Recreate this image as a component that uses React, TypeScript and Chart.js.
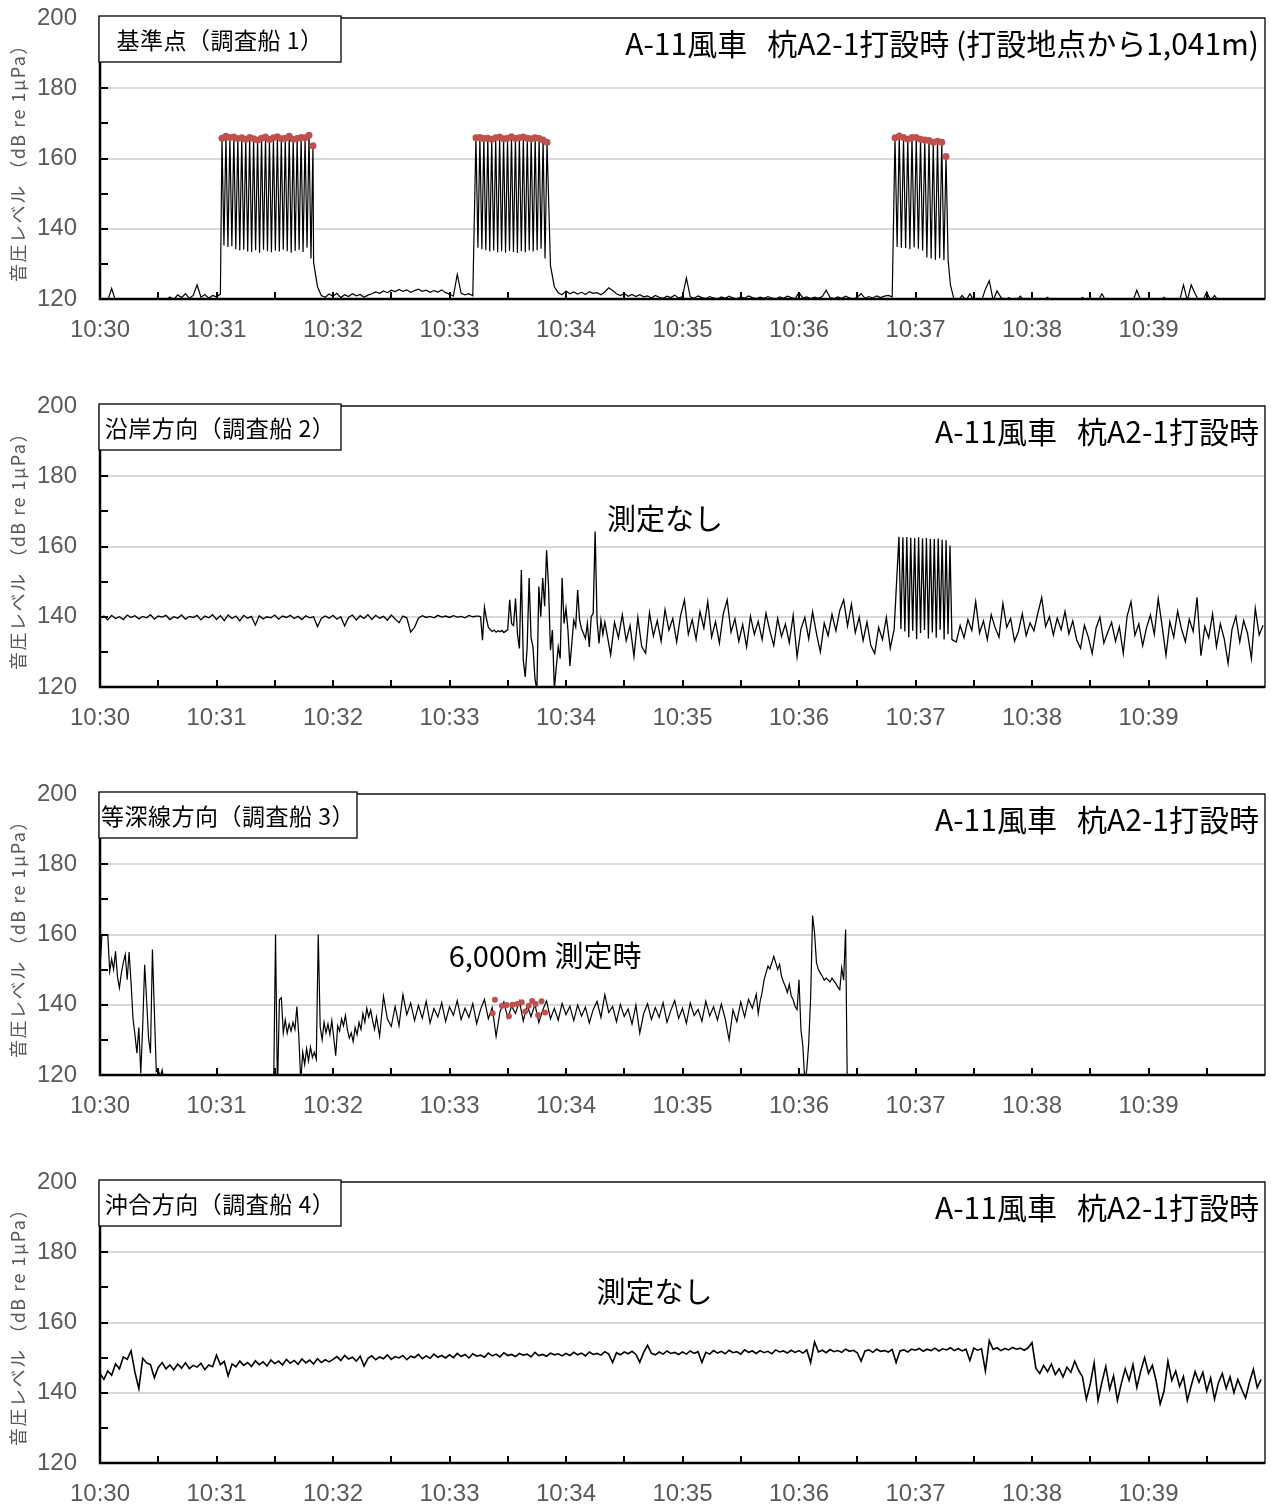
import React, { useEffect, useRef } from "react";
import { Chart, registerables } from "chart.js";

Chart.register(...registerables);

// ---------- axes ----------
const timeLabels = ["10:30", "10:31", "10:32", "10:33", "10:34", "10:35", "10:36", "10:37", "10:38", "10:39"];
const xMin = 0;
const xMax = 10;
const xMinorStep = 0.5;
const yMin = 120;
const yMax = 200;
const yLabelStep = 20;
const yMinorStep = 10;
const yAxisTitle = "音圧レベル （dB re 1μPa）";

// sampling intervals in minutes
const STEP_2S = 1 / 30;
const STEP_1S = 1 / 60;

// ---------- panel 1 : 基準点 ----------
const p1NoiseA = [119.5, 119.5, 119.6, 123.0, 119.5, 119.4, 119.6, 119.5, 119.5, 119.4, 119.6, 119.5, 119.5, 119.6, 119.4, 119.5, 119.5, 119.8,
  120.6, 119.8, 121.2, 120.4, 121.5, 120.2, 121.0, 124.0, 120.5, 121.3, 120.2, 121.0, 120.6, 121.4];
const p1NoiseB = [130.5, 123.5,
  121.0, 120.5, 121.4, 120.8, 121.6, 120.4, 121.2, 120.7, 121.5, 120.9, 121.3, 120.5, 121.1,
  121.5, 122.0, 121.6, 122.3, 121.8, 122.5, 122.1, 122.7, 122.2, 122.6, 121.9, 122.4, 122.8, 122.2, 122.5, 121.9, 122.4, 122.0, 122.6, 121.8,
  121.4, 120.8, 127.0, 121.6, 121.2, 121.5, 120.9];
const p1NoiseC = [129.5, 123.5,
  121.8, 121.2, 122.3, 121.5, 122.0, 121.4, 121.9, 121.3, 122.1, 121.6, 121.8, 121.2, 122.0, 123.2, 122.4, 121.5, 121.0, 121.6, 120.8, 121.3, 120.7, 121.2, 120.6,
  120.9, 120.3, 121.0, 120.5, 120.2, 120.8, 120.4, 121.1, 120.3, 120.7,
  126.0,
  120.6, 120.2, 120.9, 120.4, 120.1, 120.7, 120.3, 120.0, 120.6,
  120.2, 120.8, 120.3, 120.0, 120.6, 120.2, 120.9, 120.4, 120.1, 120.5,
  120.2, 120.7, 120.3, 120.0, 120.6, 120.2, 120.8, 120.4, 120.1, 121.8,
  120.3, 120.6, 120.1, 120.5, 120.2, 120.7, 122.5, 120.4, 120.1, 120.6,
  120.2, 120.8, 120.3, 120.0, 120.5, 121.5, 120.2, 120.7, 120.3, 120.9, 120.4, 120.8, 121.0, 120.6];
const p1NoiseD = [124.0,
  119.5, 119.6, 121.0, 119.5, 121.5, 119.6, 119.5, 119.5, 122.8, 125.2,
  119.6, 122.3, 120.5, 119.5, 120.4, 119.6, 119.5, 120.8, 119.5, 119.6,
  119.5, 119.5, 119.6, 119.5, 120.5, 119.5, 119.6, 119.5, 119.5, 119.6,
  119.5, 119.5, 119.6, 120.4, 119.5, 119.5, 119.6, 119.5, 121.5, 119.5,
  119.5, 119.6, 119.5, 119.5, 119.5, 119.6, 119.5, 122.5, 119.6, 119.5,
  119.5, 119.6, 119.5, 119.5, 120.5, 119.5, 119.6, 119.5, 119.5, 124.0,
  119.6, 124.0, 121.5, 119.5, 119.6, 122.0, 119.5, 121.0, 119.5, 119.6,
  119.5, 119.5, 119.6, 119.5, 119.5, 119.6, 119.5, 119.5, 119.6, 119.5];

const p1Burst1Peaks = [165.8, 166.3, 166.0, 166.1, 165.7, 165.9, 165.5, 166.0, 165.6, 165.3, 165.8, 166.1, 165.4, 165.9, 166.2, 165.6, 165.8, 166.3, 165.5, 165.7, 166.0, 165.9, 166.6, 163.6];
const p1Burst1Troughs = [135.2, 134.8, 135.0, 134.2, 133.8, 134.0, 133.5, 133.4, 133.9, 133.2, 134.0, 133.6, 133.3, 133.8, 133.5, 134.1, 133.6, 133.2, 133.7, 134.0, 133.4, 134.6, 131.5];
const p1Burst2Peaks = [165.9, 166.0, 165.7, 165.8, 165.5, 165.9, 166.1, 165.6, 165.8, 166.2, 165.7, 165.9, 166.1, 165.8, 165.6, 165.9, 165.7, 165.3, 164.6];
const p1Burst2Troughs = [134.6, 134.2, 133.9, 133.5, 133.8, 133.3, 133.6, 133.2, 133.7, 133.4, 133.1, 133.6, 133.3, 133.8, 133.5, 133.9, 134.3, 131.5];
const p1Burst3Peaks = [165.9, 166.4, 166.0, 165.5, 166.0, 166.0, 165.5, 165.3, 165.1, 164.6, 164.9, 164.6, 160.6];
const p1Burst3Troughs = [134.8, 134.6, 134.5, 134.2, 134.7, 134.3, 133.8, 131.8, 131.5, 131.2, 131.6, 131.0, 131.0];

// ---------- panel 2 : 沿岸方向 ----------
const p2NoiseA = [
  139.6, 140.2, 139.1, 140.4, 139.5, 140.0, 139.2, 140.5, 139.8, 140.3,
  139.4, 140.1, 139.7, 140.6, 139.3, 140.2, 139.9, 140.4, 139.2, 140.0,
  139.6, 140.5, 139.3, 140.1, 139.8, 140.4, 139.1, 140.2, 139.7, 140.6,
  139.2, 140.3, 138.9, 140.5, 139.5, 140.2, 138.8, 140.4, 139.6, 140.1,
  137.6, 140.3, 139.4, 140.0, 139.7, 140.5, 139.3, 140.2, 139.8, 140.4,
  139.5, 140.1, 139.2, 140.3, 139.7, 140.0, 137.2, 139.5, 140.2, 139.6,
  140.4, 139.3, 140.0, 137.4, 139.8, 140.5, 139.1, 140.3, 139.5, 140.6,
  139.2, 140.4, 139.6, 140.1, 139.0, 140.5, 139.4, 138.3, 140.2, 139.7,
  135.6, 137.0, 139.6, 140.3, 139.8, 140.1, 139.7, 140.4, 139.9, 140.2,
  139.8, 140.3, 139.9, 140.1, 139.7, 140.4, 140.0, 140.2];
const p2Disturbed = [140.2, 140.0, 133.3, 142.7, 139.5, 137.0, 136.3, 135.8, 136.2, 135.6, 136.0, 135.7, 136.1, 135.5, 135.9, 136.3,
  144.8, 138.0, 137.5, 145.2, 135.2, 131.0, 153.3, 127.6, 122.9, 131.4, 151.0, 134.0, 131.4, 122.5, 119.0, 148.6, 140.0, 151.0, 143.0, 158.9,
  148.6, 130.5, 136.2, 119.5, 125.7, 131.4, 128.1, 151.0, 138.1, 142.4, 136.2, 126.0, 132.4, 139.0, 137.1, 147.6, 139.0, 136.6, 135.2, 133.8,
  138.1, 131.4, 140.0, 141.0, 164.3, 139.0, 132.4, 139.0, 135.0, 138.5];
const p2NoiseB = [
  135.5, 129.2, 138.4, 134.0, 140.6, 133.2, 137.5, 128.7, 139.8, 131.5,
  129.6, 141.2, 134.5, 138.9, 133.0, 142.0, 136.2, 139.5, 132.8, 140.3,
  144.8, 135.0, 139.2, 133.6, 141.5, 136.8, 144.3, 134.2, 138.6, 132.5,
  140.8, 144.8, 135.6, 139.4, 133.0, 137.8, 131.4, 140.2, 135.0, 138.7,
  133.5, 141.0, 136.0, 131.8, 139.5, 134.4, 137.9, 132.6, 140.4, 128.6,
  136.5, 139.8, 133.7, 141.4, 135.2, 130.0, 138.2, 134.6, 140.7, 136.0,
  141.8, 144.8, 137.4, 143.6, 135.5, 139.9, 133.2, 138.5, 131.8, 129.5,
  137.0, 133.5, 139.8, 131.0, 136.4];
const p2NoiseC = [
  132.8, 137.5, 134.0, 139.2, 136.1, 144.3, 135.4, 138.8, 133.5, 140.6,
  136.9, 134.2, 143.8, 137.0, 139.5, 133.0, 135.8, 140.9, 134.6, 138.2,
  136.0, 141.0, 145.5, 137.2, 140.0, 134.8, 139.6, 136.3, 141.5, 135.1,
  138.8, 133.4, 131.0, 137.6, 134.2, 129.5, 136.8, 139.9, 132.5, 135.6,
  138.4, 133.0, 137.1, 129.6, 140.2, 144.3, 134.7, 138.0, 131.8, 136.9,
  140.5, 135.0, 145.2, 137.4, 129.0, 138.6, 134.2, 141.6, 136.5, 132.9,
  139.3, 135.8, 145.5, 128.9, 137.2, 134.0, 140.8, 131.5, 138.0, 133.7,
  126.7, 136.4, 140.1, 132.8, 138.9, 135.3, 128.1, 142.4, 134.8, 137.6];
const p2BurstPeaks = [162.8, 162.6, 162.7, 162.5, 162.4, 162.6, 162.3, 162.4, 162.2, 162.1, 162.3, 161.9, 161.8, 160.3];
const p2BurstTroughs = [136.5, 135.8, 134.2, 136.0, 133.6, 135.4, 136.2, 133.8, 135.5, 134.0, 136.3, 133.5, 135.0, 133.5];

// ---------- panel 3 : 等深線方向 ----------
const p3Start = [150.0, 160.0, 160.0, 160.0, 160.0, 149.5, 153.0, 150.0, 155.2, 148.0, 144.8, 149.0, 152.0, 154.3, 147.1, 155.0, 146.2,
  136.0, 131.5, 126.2, 133.5, 120.5, 133.8, 151.4, 141.4, 130.5, 126.2, 155.7, 138.0, 121.0, 121.4, 119.5, 121.4, 118.0];
const p3Resume = [115.0, 160.0, 115.0, 141.4, 142.0, 132.0, 135.7, 131.9, 134.5, 132.5, 135.0, 133.0, 139.5, 131.0, 118.0, 126.5, 123.0,
  127.5, 124.0, 128.0, 125.0, 126.5, 124.5, 160.0, 133.8, 130.0, 135.0, 132.0, 134.5, 131.5, 135.5, 130.5, 125.5, 134.0, 132.5, 136.0,
  134.0, 137.0, 133.0, 130.5, 132.0, 129.5, 133.5, 131.5, 135.0, 133.0, 137.5, 135.0, 139.0, 136.5, 138.5, 135.5, 133.0, 136.5];
const p3Steady = [
  131.0, 142.4, 136.0, 133.8, 139.5, 134.0, 142.9, 137.2, 140.5, 135.5,
  139.8, 136.2, 141.0, 134.8, 138.9, 136.5, 140.6, 135.2, 139.4, 137.0,
  141.2, 135.8, 139.0, 136.4, 140.3, 134.6, 138.7, 141.5, 136.0, 139.2,
  131.0, 138.0, 140.8, 136.2, 139.6, 137.5, 141.0, 135.4, 139.8, 136.6,
  140.2, 134.9, 138.5, 141.1, 136.0, 139.0, 135.6, 140.4, 137.2, 139.6,
  135.5, 140.0, 136.8, 139.3, 134.8, 138.6, 141.0, 136.4, 142.9, 137.8,
  139.5, 135.2, 140.1, 136.7, 138.8, 134.5, 139.9, 131.9, 137.5, 140.3,
  135.8, 139.2, 136.4, 140.6, 135.0, 138.4, 141.2, 136.1, 139.0, 134.7,
  140.5, 136.9, 138.7, 135.3, 141.0, 136.8, 139.4, 135.6, 140.2, 136.0,
  130.0, 138.5, 135.2, 140.8, 136.5, 141.5, 139.0, 143.0];
const p3End = [137.5, 141.0, 143.5, 147.1, 149.0, 151.0, 150.2, 151.9, 153.8, 152.0, 150.0, 151.5, 148.1, 146.5, 145.2, 143.5, 145.8,
  142.5, 141.4, 139.5, 138.6, 147.1, 133.0, 128.1, 118.0, 121.5, 129.0, 142.0, 165.4, 160.5, 152.0, 150.0, 149.0, 148.1, 147.0, 147.6,
  147.1, 146.5, 147.6, 146.8, 146.0, 145.0, 144.3, 150.5, 147.0, 161.4, 110.0];
const p3MarkTimes = [3.37, 3.39, 3.45, 3.49, 3.51, 3.54, 3.58, 3.62, 3.65, 3.68, 3.71, 3.74, 3.76, 3.79, 3.82];
const p3MarkValues = [137.6, 141.4, 139.7, 139.9, 136.7, 140.0, 140.2, 140.7, 138.1, 139.7, 141.1, 140.2, 137.1, 141.0, 137.8];

// ---------- panel 4 : 沖合方向 ----------
const p4Before = [
  145.5, 143.8, 146.2, 145.0, 148.2, 146.8, 150.2, 149.5, 151.9, 145.8, 141.2, 149.8, 148.5,
  148.0, 144.3, 147.2, 148.6, 146.8, 147.9, 146.5, 148.2, 147.0, 148.5, 146.9, 147.8, 147.3, 148.4, 146.6, 147.9, 147.4,
  150.7, 148.0, 148.9, 144.8,
  148.2, 147.4, 149.0, 147.8, 148.6, 147.5, 149.1, 148.0, 148.8, 147.6, 149.3, 148.3, 149.0, 147.9, 149.5, 148.4, 149.2, 148.1, 149.6, 148.5, 149.3, 148.2, 149.7, 148.6, 149.4, 148.8,
  149.5, 150.3, 149.2, 150.6, 149.6, 150.1, 149.0, 150.4, 147.6, 149.8, 150.5, 149.4, 150.2, 149.7, 150.8, 149.5, 150.3, 149.9, 150.6, 149.4, 150.4, 150.0, 150.9, 149.7, 150.5, 149.8, 151.0, 150.1, 150.6, 149.9,
  150.8, 150.0, 151.2, 150.3, 150.9, 149.9, 151.1, 150.4, 150.7, 150.1, 151.3, 150.5, 151.0, 150.2, 151.4, 150.6, 150.9, 150.3, 151.2, 150.7, 151.0, 150.2, 151.5, 150.6, 150.9, 150.4, 151.3, 150.8, 151.1, 150.5,
  151.2, 150.6, 151.5, 150.8, 151.3, 150.5, 151.6, 150.9, 151.2, 150.7, 151.7, 151.0, 148.6, 151.4, 150.8, 151.6, 151.1, 151.8, 150.9, 148.7, 151.5, 153.5, 151.2, 150.8, 151.6, 151.0, 151.9, 151.2, 151.5, 150.9,
  151.6, 151.0, 151.9, 151.2, 151.7, 148.6, 151.5, 151.0, 152.0, 151.3, 151.8, 151.1, 152.1, 151.4, 151.7, 151.0, 152.2, 151.5, 151.9, 151.2, 152.0, 151.4, 151.8, 151.1, 152.2, 151.6, 151.9, 151.3, 152.1, 151.5,
  152.0, 151.3, 152.2, 148.6, 154.5, 151.6, 152.1, 151.4, 152.3, 151.7, 152.0, 151.5, 152.4, 151.8, 152.1, 151.4, 149.0, 151.9, 152.2, 151.5, 152.4, 151.8, 152.0, 151.6, 152.3, 148.6, 151.9, 152.2, 151.6, 152.4,
  152.1, 152.6, 151.8, 152.4, 152.0, 152.7, 151.9, 152.5, 152.2, 152.8, 152.0, 152.6, 151.9, 152.4, 149.2, 152.7, 152.1, 152.5, 146.2, 154.8, 152.3, 152.8, 152.0, 152.6, 152.2, 152.9, 152.4, 152.7, 152.1, 152.8];
const p4After = [154.3,
  147.0, 145.5, 147.8, 146.0, 148.2, 145.2, 146.8, 144.5, 147.3, 145.8, 149.0, 146.4,
  144.5, 138.1, 142.5, 148.5, 137.8, 143.0, 147.5, 141.0, 144.8, 137.8, 142.6, 146.8, 143.5, 148.0, 141.5, 146.2, 150.0, 145.5,
  147.8, 143.2, 136.8, 140.5, 149.0, 143.5, 146.2, 141.8, 144.6, 137.8, 142.0, 146.0, 143.0, 145.8, 140.5, 144.2, 138.2, 142.8,
  145.5, 141.2, 144.5, 140.0, 143.8, 141.0, 138.5, 143.0, 146.7, 141.5, 143.8];

// ---------- builders ----------
type Pt = { x: number; y: number };
type Seg = { start: number; step: number; values: number[] };
type Burst = { start: number; interval: number; peaks: number[]; troughs: number[] };

function segPoints(s: Seg): Pt[] {
  return s.values.map((v, i) => ({ x: s.start + i * s.step, y: v }));
}
function burstPoints(b: Burst): Pt[] {
  const out: Pt[] = [];
  b.peaks.forEach((p, k) => {
    out.push({ x: b.start + k * b.interval, y: p });
    if (k < b.troughs.length) out.push({ x: b.start + (k + 0.5) * b.interval, y: b.troughs[k] });
  });
  return out;
}
function peakPoints(b: Burst): Pt[] {
  return b.peaks.map((p, k) => ({ x: b.start + k * b.interval, y: p }));
}
function buildLine(segs: Seg[], bursts: Burst[]): Pt[] {
  const pts: Pt[] = [];
  segs.forEach((s) => pts.push(...segPoints(s)));
  bursts.forEach((b) => pts.push(...burstPoints(b)));
  pts.sort((a, b) => a.x - b.x);
  return pts;
}

const p1Bursts: Burst[] = [
  { start: 1.047, interval: 0.03396, peaks: p1Burst1Peaks, troughs: p1Burst1Troughs },
  { start: 3.227, interval: 0.03389, peaks: p1Burst2Peaks, troughs: p1Burst2Troughs },
  { start: 6.824, interval: 0.0365, peaks: p1Burst3Peaks, troughs: p1Burst3Troughs },
];
const p2Bursts: Burst[] = [{ start: 6.858, interval: 0.0337, peaks: p2BurstPeaks, troughs: p2BurstTroughs }];

const RED = "#c0504d";
const GRAY = "#595959";
const CJK = "'Noto Sans CJK JP', 'Noto Sans', sans-serif";
const LATIN = "'Liberation Sans', Arial, sans-serif";
const MAIN_TITLE = "A-11風車   杭A2-1打設時";

type Note = { text: string; t: number; v: number; size: number };
type PanelCfg = {
  top: number;
  label: string;
  boxWidth: number;
  title: string;
  line: Pt[];
  lineWidth: number;
  marks: Pt[];
  markRadius: number;
  notes: Note[];
};

const panels: PanelCfg[] = [
  {
    top: 0,
    label: "基準点（調査船 1）",
    boxWidth: 242,
    title: MAIN_TITLE + " (打設地点から1,041m)",
    line: buildLine(
      [
        { start: 0, step: STEP_2S, values: p1NoiseA },
        { start: 55 * STEP_2S, step: STEP_2S, values: p1NoiseB },
        { start: 116 * STEP_2S, step: STEP_2S, values: p1NoiseC },
        { start: 219 * STEP_2S, step: STEP_2S, values: p1NoiseD },
      ],
      p1Bursts
    ),
    lineWidth: 1.2,
    marks: p1Bursts.flatMap(peakPoints),
    markRadius: 3.5,
    notes: [],
  },
  {
    top: 388,
    label: "沿岸方向（調査船 2）",
    boxWidth: 242,
    title: MAIN_TITLE,
    line: buildLine(
      [
        { start: 0, step: STEP_2S, values: p2NoiseA },
        { start: 3.25, step: STEP_1S, values: p2Disturbed },
        { start: 4.35, step: STEP_2S, values: p2NoiseB },
        { start: 7.35, step: STEP_2S, values: p2NoiseC },
      ],
      p2Bursts
    ),
    lineWidth: 1.3,
    marks: [],
    markRadius: 0,
    notes: [{ text: "測定なし", t: 4.85, v: 167.8, size: 29 }],
  },
  {
    top: 776,
    label: "等深線方向（調査船 3）",
    boxWidth: 258,
    title: MAIN_TITLE,
    line: buildLine(
      [
        { start: 0, step: STEP_1S, values: p3Start },
        { start: 1.49, step: STEP_1S, values: p3Resume },
        { start: 2.4, step: STEP_2S, values: p3Steady },
        { start: 5.65, step: STEP_1S, values: p3End },
      ],
      []
    ),
    lineWidth: 1.2,
    marks: p3MarkTimes.map((t, i) => ({ x: t, y: p3MarkValues[i] })),
    markRadius: 3,
    notes: [{ text: "6,000m 測定時", t: 3.82, v: 153.9, size: 29 }],
  },
  {
    top: 1164,
    label: "沖合方向（調査船 4）",
    boxWidth: 242,
    title: MAIN_TITLE,
    line: buildLine(
      [
        { start: 0, step: STEP_2S, values: p4Before },
        { start: 8.0, step: STEP_2S, values: p4After },
      ],
      []
    ),
    lineWidth: 1.6,
    marks: [],
    markRadius: 0,
    notes: [{ text: "測定なし", t: 4.76, v: 168.8, size: 29 }],
  },
];

function makeDeco(cfg: PanelCfg) {
  return {
    id: "deco",
    afterDraw(chart: any) {
      const ctx: any = chart.ctx;
      const a = chart.chartArea;
      const xs = chart.scales.x;
      const ys = chart.scales.y;
      ctx.save();
      // inner tick marks
      ctx.strokeStyle = "#000";
      ctx.lineWidth = 2;
      ctx.beginPath();
      for (let v = yMin + yMinorStep; v < yMax; v += yMinorStep) {
        const y = Math.round(ys.getPixelForValue(v));
        ctx.moveTo(a.left, y);
        ctx.lineTo(a.left + 8, y);
      }
      for (let t = xMin + xMinorStep; t < xMax - 1e-9; t += xMinorStep) {
        const x = Math.round(xs.getPixelForValue(t));
        ctx.moveTo(x, a.bottom);
        ctx.lineTo(x, a.bottom - 7);
      }
      ctx.stroke();
      // frame
      ctx.lineWidth = 1.3;
      ctx.strokeRect(a.left, a.top, a.right - a.left, a.bottom - a.top);
      ctx.lineWidth = 2.5;
      ctx.beginPath();
      ctx.moveTo(a.left, a.top);
      ctx.lineTo(a.left, a.bottom);
      ctx.lineTo(a.right, a.bottom);
      ctx.stroke();
      // label box
      const bx = a.left - 1;
      const by = a.top - 2;
      const bw = cfg.boxWidth;
      const bh = 46;
      ctx.fillStyle = "#fff";
      ctx.fillRect(bx, by, bw, bh);
      ctx.lineWidth = 1.3;
      ctx.strokeStyle = "#000";
      ctx.strokeRect(bx, by, bw, bh);
      ctx.fillStyle = "#000";
      ctx.font = `23px ${CJK}`;
      ctx.letterSpacing = "0.5px";
      ctx.textAlign = "center";
      ctx.textBaseline = "middle";
      ctx.fillText(cfg.label, bx + bw / 2, by + bh / 2 + 1);
      ctx.letterSpacing = "0px";
      // main title
      ctx.font = `30px ${CJK}`;
      ctx.textAlign = "right";
      ctx.fillText(cfg.title, a.right - 6, a.top + 26);
      // notes
      cfg.notes.forEach((n) => {
        ctx.font = `${n.size}px ${CJK}`;
        ctx.textAlign = "center";
        ctx.fillText(n.text, xs.getPixelForValue(n.t), ys.getPixelForValue(n.v));
      });
      // y axis title
      ctx.translate(18, (a.top + a.bottom) / 2);
      ctx.rotate(-Math.PI / 2);
      ctx.font = `18px ${CJK}`;
      ctx.letterSpacing = "1.5px";
      ctx.fillStyle = GRAY;
      ctx.textAlign = "center";
      ctx.fillText(yAxisTitle, 0, 0);
      ctx.letterSpacing = "0px";
      ctx.restore();
    },
  };
}

function Panel({ cfg }: { cfg: PanelCfg }) {
  const ref = useRef<HTMLCanvasElement>(null);
  useEffect(() => {
    if (!ref.current) return;
    const chart = new Chart(ref.current, {
      type: "line",
      data: {
        datasets: [
          {
            data: cfg.marks,
            showLine: false,
            pointRadius: cfg.markRadius,
            pointBackgroundColor: RED,
            pointBorderColor: RED,
            pointBorderWidth: 0,
            order: 0,
          } as any,
          {
            data: cfg.line,
            borderColor: "#000",
            borderWidth: cfg.lineWidth,
            pointRadius: 0,
            tension: 0,
            fill: false,
            order: 1,
          } as any,
        ],
      },
      options: {
        animation: false,
        responsive: false,
        devicePixelRatio: 1,
        events: [],
        layout: { padding: { top: 18, right: 6, left: 0, bottom: 0 } },
        plugins: { legend: { display: false }, tooltip: { enabled: false } },
        scales: {
          x: {
            type: "linear",
            min: xMin,
            max: xMax,
            afterBuildTicks: (s: any) => {
              s.ticks = timeLabels.map((_, i) => ({ value: xMin + i }));
            },
            afterFit: (s: any) => {
              s.height = 47;
              s.paddingLeft = 0;
              s.paddingRight = 0;
            },
            ticks: {
              callback: (v: any) => timeLabels[Math.round(Number(v) - xMin)] ?? "",
              color: GRAY,
              font: { size: 24, family: LATIN },
              padding: 17,
              autoSkip: false,
              maxRotation: 0,
            },
            grid: { display: false, drawTicks: false },
            border: { display: false },
          },
          y: {
            type: "linear",
            min: yMin,
            max: yMax,
            afterFit: (s: any) => {
              s.width = 100;
              s.paddingTop = 0;
              s.paddingBottom = 0;
            },
            ticks: {
              stepSize: yLabelStep,
              color: GRAY,
              font: { size: 24, family: LATIN },
              padding: 23,
            },
            grid: { color: "#d9d9d9", lineWidth: 2, drawTicks: false },
            border: { display: false },
          },
        },
      } as any,
      plugins: [makeDeco(cfg)],
    });
    return () => chart.destroy();
  }, [cfg]);
  return (
    <canvas
      ref={ref}
      width={1271}
      height={346}
      style={{ position: "absolute", left: 0, top: cfg.top, width: 1271, height: 346 }}
    />
  );
}

export default function App() {
  return (
    <div style={{ position: "absolute", left: 0, top: 0, width: 1271, height: 1510, background: "#fff" }}>
      {panels.map((p, i) => (
        <Panel key={i} cfg={p} />
      ))}
    </div>
  );
}
